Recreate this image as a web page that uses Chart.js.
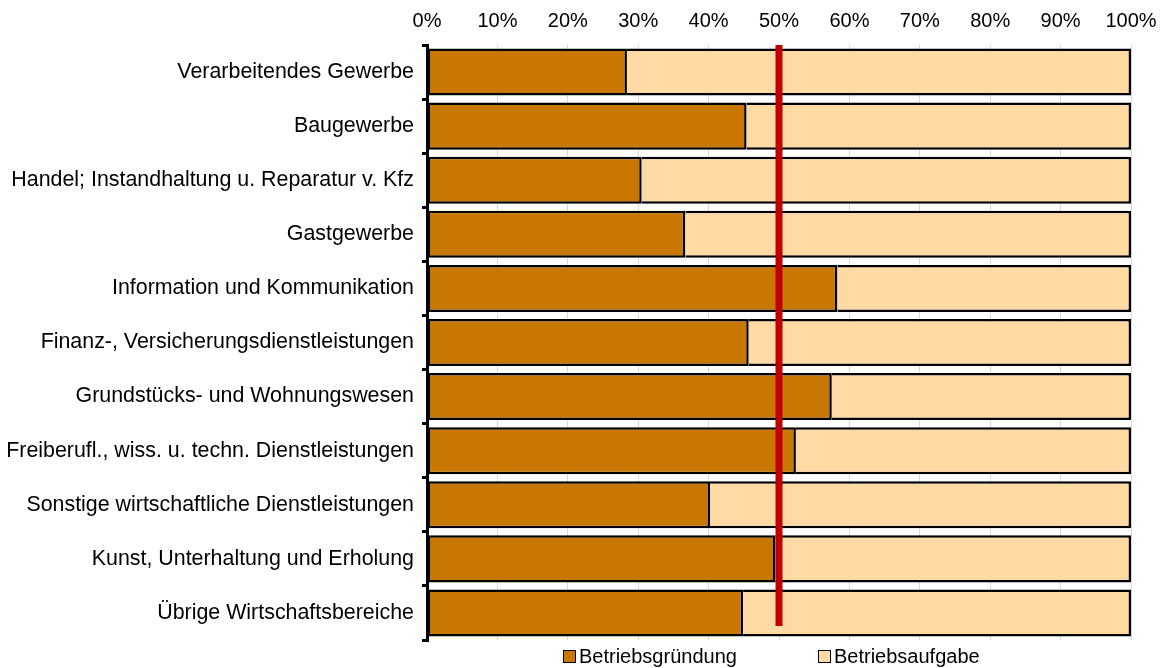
<!DOCTYPE html>
<html>
<head>
<meta charset="utf-8">
<script src="https://cdn.jsdelivr.net/npm/chart.js@4/dist/chart.umd.min.js"></script>
<style>
  body { margin: 0; background: #fff; }
  #wrap { position: relative; width: 1162px; height: 668px; }
  .legend { position: absolute; top: 645px; font-family: "Liberation Sans", Arial, sans-serif; font-size: 20px; color: #000; display: flex; align-items: center; }
  .legend span.box { display: inline-block; width: 11px; height: 11px; border: 1.5px solid #000; margin-right: 3px; }
</style>
</head>
<body>
<div id="wrap">
  <canvas id="chart" width="1162" height="668"></canvas>
  <div class="legend" style="left:563px"><span class="box" style="background:#C87700"></span>Betriebsgründung</div>
  <div class="legend" style="left:818px"><span class="box" style="background:#FFDAA4"></span>Betriebsaufgabe</div>
</div>
<script>
const categories = [
    "Verarbeitendes Gewerbe",
    "Baugewerbe",
    "Handel; Instandhaltung u. Reparatur v. Kfz",
    "Gastgewerbe",
    "Information und Kommunikation",
    "Finanz-, Versicherungsdienstleistungen",
    "Grundstücks- und Wohnungswesen",
    "Freiberufl., wiss. u. techn. Dienstleistungen",
    "Sonstige wirtschaftliche Dienstleistungen",
    "Kunst, Unterhaltung und Erholung",
    "Übrige Wirtschaftsbereiche"
];
const gruendung = [28.4, 45.4, 30.5, 36.7, 58.3, 45.7, 57.5, 52.4, 40.2, 49.5, 44.9];
const aufgabe = [71.6, 54.6, 69.5, 63.3, 41.7, 54.3, 42.5, 47.6, 59.8, 50.5, 55.1];
const referenceLine = 50;

const fontFamily = '"Liberation Sans", Arial, sans-serif';

// red 50% marker line
const markerLine = {
    id: "markerLine",
    afterDatasetsDraw(chart) {
        const { ctx, chartArea, scales } = chart;
        const x = scales.x.getPixelForValue(referenceLine);
        ctx.save();
        ctx.strokeStyle = "#C00000";
        ctx.lineWidth = 7;
        ctx.beginPath();
        ctx.moveTo(x, chartArea.top);
        ctx.lineTo(x, chartArea.bottom - 14);
        ctx.stroke();
        ctx.restore();
    }
};

new Chart(document.getElementById("chart").getContext("2d"), {
    type: "bar",
    data: {
        labels: categories,
        datasets: [{
            label: "Betriebsgründung",
            data: gruendung,
            backgroundColor: "#C87700",
            borderColor: "#000",
            borderWidth: 2.5,
            borderSkipped: false,
            barPercentage: 0.87,
            categoryPercentage: 1
        }, {
            label: "Betriebsaufgabe",
            data: aufgabe,
            backgroundColor: "#FFDAA4",
            borderColor: "#000",
            borderWidth: 2.5,
            borderSkipped: "start",
            barPercentage: 0.87,
            categoryPercentage: 1
        }]
    },
    options: {
        indexAxis: "y",
        responsive: false,
        animation: false,
        layout: { padding: { top: 0, right: 31, bottom: 28, left: 0 } },
        plugins: {
            legend: { display: false },
            tooltip: { enabled: false }
        },
        scales: {
            x: {
                position: "top",
                stacked: true,
                min: 0,
                max: 100,
                afterFit: s => {
                    s.height = 45;
                    s.paddingLeft = 0;
                    s.paddingRight = 0;
                },
                border: { display: false },
                grid: { color: "#D9D9D9", lineWidth: 1, drawTicks: false },
                ticks: {
                    stepSize: 10,
                    padding: 12,
                    color: "#000",
                    font: { family: fontFamily, size: 20 },
                    callback: v => v + "%"
                }
            },
            y: {
                stacked: true,
                afterFit: s => { s.width = 427; },
                border: { display: true, color: "#000", width: 3 },
                grid: { offset: true, drawOnChartArea: false, drawTicks: true, tickLength: 5, color: "#000", lineWidth: 3 },
                ticks: {
                    padding: 8,
                    color: "#000",
                    font: { family: fontFamily, size: 21.4 }
                }
            }
        }
    },
    plugins: [markerLine]
});
</script>
</body>
</html>
